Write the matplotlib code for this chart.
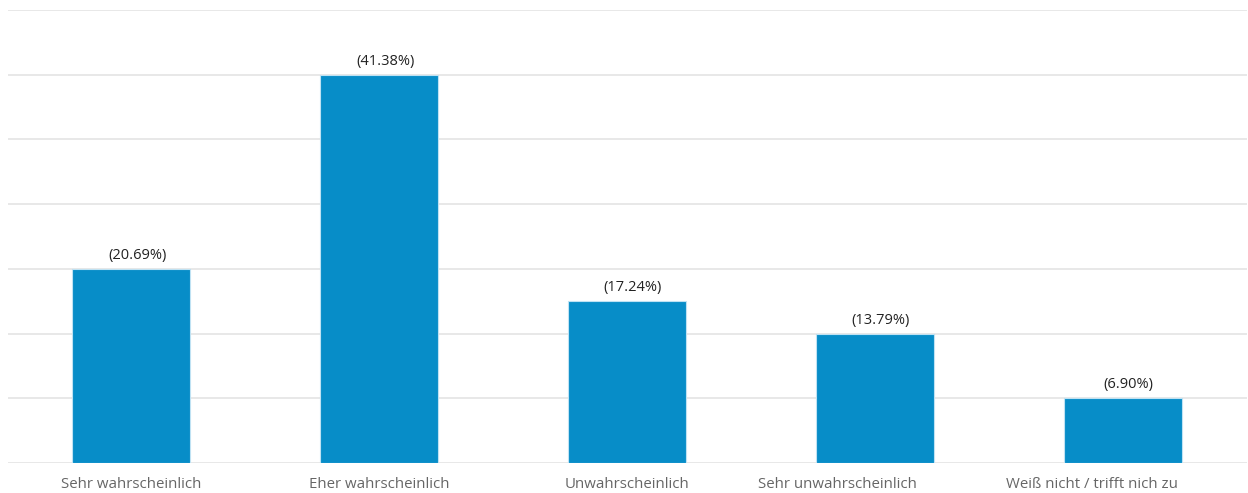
import matplotlib.pyplot as plt
import matplotlib.transforms as mtransforms
import numpy as np

# ================= 数据 =================
categories = ["Sehr wahrscheinlich", "Eher wahrscheinlich", "Unwahrscheinlich",
              "Sehr unwahrscheinlich", "Weiß nicht / trifft nich zu"]
counts = [6, 12, 5, 4, 2]
percents = [20.69, 41.38, 17.24, 13.79, 6.90]
y_ticks = [0, 2, 4, 6, 8, 10, 12, 14]

plt.rcParams['font.family'] = ['Open Sans', 'DejaVu Sans']

fig = plt.figure(figsize=(12.48, 4.93), dpi=100)
ax = fig.add_axes([7.5 / 1248, 30 / 493, 1239 / 1248, 453 / 493])

x = np.arange(len(categories))
ax.bar(x, counts, width=0.476, color='#078dc8', edgecolor='#bfe2f3',
       linewidth=0.8, zorder=3)

# 数值标签 (略微向右偏移，与原图一致)
for xi, c, p in zip(x, counts, percents):
    ax.annotate(f"({p:.2f}%)", xy=(xi, c), xytext=(6, 6),
                textcoords='offset pixels', ha='center', va='bottom',
                fontsize=10.5, color='#222222', zorder=4)

ax.set_xlim(-0.5, len(categories) - 0.5)
ax.set_ylim(0, 14)
ax.set_yticks(y_ticks)
ax.set_yticklabels([])
ax.yaxis.grid(True, color='#e6e6e6', linewidth=1.3, zorder=0)
ax.tick_params(axis='y', length=0)
ax.set_xticks(x)
ax.set_xticklabels(categories, fontsize=10.8, color='#666666')
ax.tick_params(axis='x', length=0, pad=10)
for s in ax.spines.values():
    s.set_visible(False)

# 原图中最后两个类别标签整体向左偏
label_shift_px = [0, 0, 0, -37, -31]
for lab, dx in zip(ax.get_xticklabels(), label_shift_px):
    if dx:
        lab.set_transform(lab.get_transform() +
                          mtransforms.ScaledTranslation(dx / 100, 0, fig.dpi_scale_trans))

fig.savefig('out.png', dpi=100)
